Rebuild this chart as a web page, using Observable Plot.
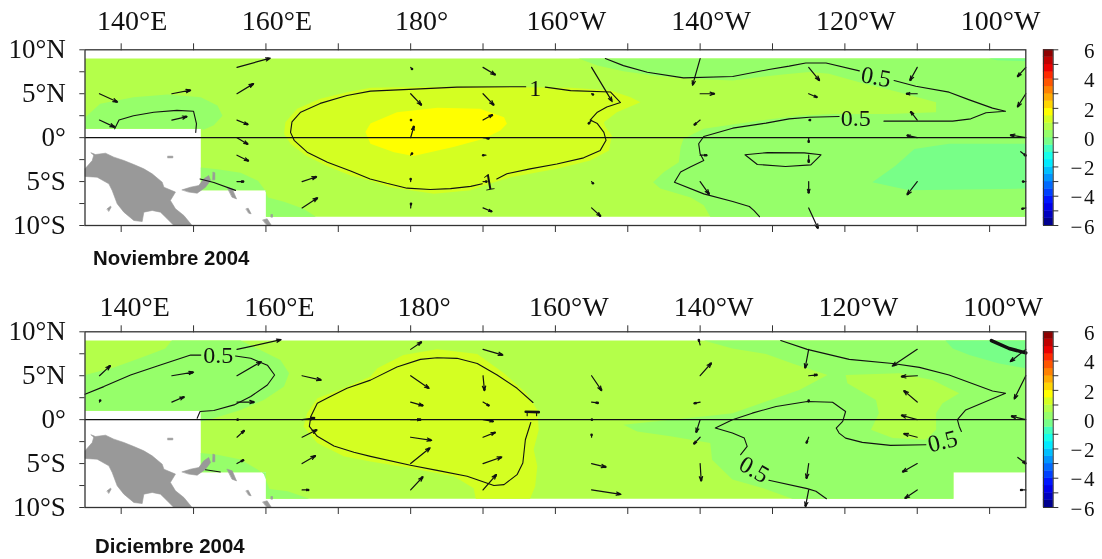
<!DOCTYPE html>
<html><head><meta charset="utf-8">
<script src="https://cdn.jsdelivr.net/npm/d3@7"></script>
<script src="https://cdn.jsdelivr.net/npm/@observablehq/plot@0.6"></script>
<style>
html,body{margin:0;padding:0;background:#fff}
#page{position:relative;width:1102px;height:559px;overflow:hidden;filter:blur(0.35px)}
#page svg{position:absolute;overflow:visible;background:none}
.cap{position:absolute;font:bold 20.4px "Liberation Sans",sans-serif;color:#111;white-space:nowrap}
</style></head><body><div id="page"></div>
<script>
// ---- axes
const lonTicks=[140,150,160,170,180,190,200,210,220,230,240,250,260];
const lonLabels={140:"140°E",160:"160°E",180:"180°",200:"160°W",220:"140°W",240:"120°W",260:"100°W"};
const latTicks=[-10,-7.5,-5,-2.5,0,2.5,5,7.5,10];
const latLabels={10:"10°N",5:"5°N",0:"0°","-5":"5°S","-10":"10°S"};
const titles=["Noviembre 2004","Diciembre 2004"];
// ---- colour legend
const levels=[-5.5,-5,-4.5,-4,-3.5,-3,-2.5,-2,-1.5,-1,-0.5,0,0.5,1,1.5,2,2.5,3,3.5,4,4.5,5,5.5];
const bandColors=["#00008f","#0000bf","#0000ea","#0015ff","#0040ff","#006aff","#0095ff","#00bfff","#00eaff","#15ffea","#40ffbf","#78ff88","#96ff6a","#b4ff4a","#d4ff22","#ffff00","#ffd500","#ffaa00","#ff8000","#ff5500","#ff2a00","#ea0000","#bf0000","#8f0000"];
const legendLabels=[-6,-4,-2,0,2,4,6];
const legendTicks=[-6,-5,-4,-3,-2,-1,0,1,2,3,4,5,6];
// ---- land (lon, lat)
const newGuinea=[[135.85,-1.73],[136.45,-1.92],[137.83,-1.77],[138.99,-2.22],[140.37,-2.6],[141.75,-3.06],[143.13,-3.55],[144.28,-4.12],[145.67,-5.07],[145.9,-5.64],[147.5,-6.2],[146.8,-7.15],[147.5,-8.1],[148.66,-8.86],[149.8,-10],[147.28,-10],[146.36,-9.24],[145.43,-8.48],[144.28,-8.29],[143.13,-8.48],[142.9,-9.55],[141.75,-9.43],[140.37,-8.48],[139.45,-7.53],[138.76,-6.02],[138.3,-5.26],[136.68,-4.5],[135,-4.42],[135,-3.55],[136,-2.6],[136.2,-2.03]];
const newBritain=[[148.43,-5.94],[149.58,-5.64],[150.73,-5.45],[151.42,-4.69],[152.1,-4.31],[152.35,-4.88],[151.65,-5.64],[150.5,-6.32],[149.35,-6.2]];
const newIreland=[[152.71,-3.93],[152.94,-4],[152.94,-4.8],[152.67,-4.8]];
const bougainville=[[154.65,-5.64],[155.34,-5.83],[155.94,-6.97],[155.34,-6.78]];
const islet1=[[146.45,-2.11],[147.14,-2.11],[147.14,-2.3],[146.45,-2.3]];
const islet2=[[138.06,-8.1],[138.53,-7.8],[138.62,-7.9],[138.3,-8.37]];
const islet3=[[157.27,-8.1],[157.55,-8.03],[157.96,-8.67],[157.64,-8.6]];
const islet4=[[159.58,-9.36],[160.17,-9.24],[160.77,-10],[160.17,-10]];
const islet5=[[160.73,-8.75],[160.91,-8.75],[160.91,-9.05],[160.73,-9.05]];
const lands=[newGuinea,newBritain,newIreland,bougainville,islet1,islet2,islet3,islet4,islet5];
// ---- sampled area of each month
const novBase=[[135,9],[265,9],[265,-9],[160,-9],[160,-6],[151,-6],[151,1],[135,1]];
const decBase=[[135,9],[265,9],[265,-6],[255,-6],[255,-9],[160,-9],[160,-6],[151,-6],[151,1],[135,1]];
// ---- November bands: [value, polygon]
const novWest=[[135,1],[135,2.3],[137.1,3.85],[141.7,4.6],[146.4,4.9],[151,4.6],[153.3,3.66],[154,2.5],[152.8,1.4],[151.4,0.9],[151,1]];
const novSouth=[[151,-3.4],[153.3,-3.6],[156.5,-4],[158.9,-4.9],[159.8,-5.9],[160.3,-6.8],[162.5,-7.3],[165.2,-8.1],[166.9,-9],[160,-9],[160,-6],[151,-6]];
const novEast=[[203.2,9],[265,9],[265,-9],[221.4,-9],[220.5,-7.7],[218.7,-6.8],[214.5,-5.8],[213.5,-5.07],[215,-3.9],[217.05,-2.8],[217.3,-1.1],[217.7,-0.13],[220.5,1],[224.5,1.5],[229.1,2.03],[233.7,2.5],[238.3,2.7],[246.1,2.7],[252.6,2.9],[252.6,4.04],[247.5,5.18],[242,6.3],[237.8,7.27],[235.1,7.46],[231.4,7.2],[227.2,6.8],[224.5,6.5],[218.7,6.7],[213.6,7.08],[209.4,7.57],[205.8,8.2]];
const novCoolSE=[[265,-0.7],[254.4,-0.7],[249.6,-1.3],[247,-3.2],[243.8,-5.07],[248.9,-6],[265,-5.8]];
const novCoolNE=[[259.9,9],[265,9],[265,8.7],[261,8.8]];
const novWarm=[[174.45,5.67],[171.2,5.18],[167.5,4.42],[164.3,3.28],[162.7,1.76],[162.5,0.44],[163.4,-0.7],[165.5,-2.03],[168.5,-3.25],[171.7,-4.3],[174.4,-4.88],[177.2,-5.64],[183.2,-6.4],[188.3,-6],[190.1,-5.45],[193.8,-4.5],[200.2,-3.55],[204.8,-2.6],[207.4,-1.45],[207.8,0.25],[206.9,1.2],[206.7,1.76],[208.5,2.9],[211.75,4.04],[210.4,4.6],[207.6,5.37],[202.1,5.67],[188.3,5.83],[179,5.75]];
const novHot=[[173.75,0.63],[174.44,1.6],[178.1,2.9],[183.7,3.4],[189.6,3.28],[192.9,2.33],[193.3,1.58],[192.4,0.82],[190.1,-0.13],[185.9,-1.07],[180.4,-2.1],[177.7,-1.65],[174.44,-0.7]];
const novBands=[[0.75,novBase],[0.25,novWest],[0.25,novSouth],[0.25,novEast],[-0.25,novCoolSE],[-0.25,novCoolNE],[1.25,novWarm],[1.75,novHot]];
// ---- December bands
const decWest=[[135,1],[135,5.08],[139,5.95],[143.1,7.16],[146.1,8.1],[147,9],[156.5,9],[158.8,8.1],[162,6.8],[163.2,5.27],[162.5,3.76],[159.7,2.25],[156.5,1.1],[152.8,0.17],[151,-0.2],[151,1]];
const decSouth=[[151,-3.8],[153.3,-4],[156.5,-4.55],[158.9,-5.7],[159.7,-6.2],[160.5,-7.9],[163,-8.15],[166,-9],[160,-9],[160,-6],[151,-6]];
const decEast=[[220.5,9],[224.46,8.1],[229.1,7.47],[232.75,6.4],[237.6,5.08],[233.7,3.38],[229.1,2.06],[224.46,0.74],[220.5,0.36],[215.9,0],[209.4,-0.58],[211.3,-1.34],[215.9,-1.9],[221.4,-2.67],[221.65,-4.56],[224.46,-6.8],[228.6,-7.77],[232.75,-9],[255,-9],[255,-6],[265,-6],[265,9]];
const decTongue=[[240.1,5.08],[247.5,5.27],[252.1,4.5],[255.8,3],[253.5,1.87],[252.6,0.74],[252.6,-1.15],[251.2,-2.29],[246.6,-2.1],[243.6,-1.15],[244.7,0.74],[244.3,2.25],[240.35,4.14]];
const decCool=[[253.9,9],[254.9,8.1],[257.2,7.35],[261.3,6.4],[265,5.84],[265,9]];
const decWarm=[[174.45,4.9],[170.75,3.57],[167.1,2.44],[165.7,0.74],[165.2,-0.77],[167.1,-2.66],[170.75,-4.18],[174.45,-4.75],[179.97,-5.5],[186,-6.45],[188.7,-7.8],[189,-9],[196.5,-9],[197.2,-7.6],[197.5,-5.3],[197,-3.4],[197.7,-1.15],[197.5,1.1],[196,3],[192.9,5.27],[189.2,7.47],[183.65,8],[179,7.35],[175.4,5.84]];
const decBands=[[0.75,decBase],[0.25,decWest],[0.25,decSouth],[0.25,decEast],[0.75,decTongue],[-0.25,decCool],[1.25,decWarm]];
// ---- contours (lon, lat); [width, points]
const novContours=[
 [1,[[139.1,1],[139.7,2],[141.7,2.5],[144.5,2.9],[147.7,3.1],[150,3],[150.4,1.6],[150.3,0.6]]],
 [1,[[150.9,-4.7],[152.8,-5.1],[155.8,-6]]],
 [1,[[195.9,5.8],[186.4,5.75],[181.3,5.55],[174.45,5.3],[171.2,4.8],[167.5,3.9],[164.8,2.9],[163.6,1.8],[163.4,0.6],[163.9,-0.3],[165.7,-1.65],[168.5,-2.8],[171.7,-3.8],[174.4,-4.7],[176.7,-5.2],[179.5,-5.75],[182.7,-5.9],[185.5,-5.8],[188.3,-5.55],[189.9,-5.25]]],
 [1,[[191.9,-4.7],[193.3,-4.1],[196.5,-3.55],[200.2,-3],[203.9,-2.3],[206.2,-1.45],[207,-0.3],[206.7,0.6],[205.8,1.6],[204.8,2],[205.8,2.9],[207.1,3.5],[209,4],[207.6,5.2],[202.1,5.35],[198.6,5.75]]],
 [1,[[206.9,9],[209.4,8.2],[212.7,7.45],[217.7,6.8],[224.5,6.96],[229.5,7.76],[232.3,8.14],[234.6,8.5],[237.4,8.5],[242,7.6]]],
 [1,[[246.8,6.5],[249.8,5.86],[254.4,5.18],[257.2,4.3],[260.4,3.36],[262.2,3],[259.5,2.83],[257.4,2.14],[254.9,1.88],[245.4,1.88]]],
 [1,[[239.2,2.4],[235.1,2.33],[232.3,2.14],[229.1,1.65],[224.5,1.08],[220.5,0.13],[219.8,-0.7],[220,-1.84],[220.5,-2.6],[218.7,-3.3],[217.3,-3.9],[216.45,-5.07],[220.5,-6.4],[224.5,-7.27],[226.8,-7.84],[227.45,-8.3],[228.2,-9]]],
 [1,[[226.2,-1.95],[229.3,-1.7],[234.4,-1.73],[236.7,-1.95],[235.3,-3.1],[231.8,-3.28],[227.9,-3.05],[226.2,-1.95]]]
];
const decContours=[
 [1,[[135,2.9],[137.6,3.76],[141.3,5.08],[145,6.1],[149.6,7.35],[151,7.35]]],
 [1,[[155.8,7.24],[157.9,6.98],[160.2,6.2],[161.2,5.08],[160.2,3.95],[157.9,2.63],[155.6,1.68],[152.8,1.04],[150.9,0.93],[150.5,0.17]]],
 [1,[[151.65,-5.7],[153.7,-5.95]]],
 [1,[[196.6,-0.32],[195.85,-2.29],[195.5,-4.93],[194.7,-6.26],[192.9,-7.4],[191.5,-7.5],[187.8,-6.45],[183.65,-5.77],[179.97,-5.2],[174.44,-4.18],[172.15,-3.72],[169.4,-3],[167.1,-1.9],[166,-0.77],[166.2,0.36],[167.1,1.87],[168.7,2.55],[171.2,3.57],[174.45,4.5],[178.1,6],[181.35,6.86],[183.65,7.05],[186.4,6.98],[189.2,6.4],[191.95,5.08],[194.7,3.57],[196.9,1.95]]],
 [2.4,[[195.9,0.9],[197.7,0.85]]],
 [1,[[196.1,0.9],[196.1,0.45]]],
 [1,[[197.4,0.9],[197.4,0.45]]],
 [1,[[231.14,9],[234.8,8],[240.6,6.86],[246.6,6.4],[250.3,5.95],[254.4,5.08],[260.4,3.27],[262.2,3],[256.7,1.11],[255.55,0],[255.8,-0.77],[256.1,-1.34]]],
 [1,[[251.2,-2.85],[246.3,-2.93],[242.4,-2.59],[240.1,-2.1],[239.2,-1.53],[238.8,-0.96],[239.7,-0.2],[240.1,0.93],[238.3,1.98],[234.8,2.06],[230.5,1.5],[227.2,0.74],[224.46,0],[222.1,-0.96],[224.46,-1.53],[226.1,-2.1],[226.5,-3.04],[225.6,-3.99]]],
 [1,[[229.5,-6.9],[234.8,-7.85],[236,-8.15],[237.45,-9]]],
 [3.2,[[260.25,9],[262.7,8.1],[265,7.6]]]
];
// ---- contour labels: lon, lat, text, rotation
const novLabels=[[197.2,5.67,"1",0],[190.8,-5.07,"1",-10],[244.3,6.9,"0.5",10],[241.5,2.2,"0.5",0]];
const decLabels=[[153.4,7.35,"0.5",0],[253.5,-2.48,"0.5",-14],[227.45,-5.69,"0.5",30]];
// ---- wind vectors: lon, lat, dlon, dlat
const novVectors=[
[137,5,2.5,-.95],[137,2,2.1,-.8],[147,5,2.6,.4],[147,2,2.1,.4],
[156,8,4.6,1.05],[156,5,2.3,1.15],[156,2,1.5,-.5],[156,0,1.5,-.75],[156,-2,1.6,-.65],[156,-5,.9,0],
[165,-5,2,.55],[165,-8,2.15,1.15],
[180,8,.2,-.2],[180,5,1.5,-1.3],[180,2,.05,0],[180,0,.45,1.3],[180,-2,.2,.2],[180,-5,0,.3],[180,-8,.05,.5],
[190,8,1.7,-.85],[190,5,1.5,-1.3],[190,2,1.3,.6],[190,0,.8,-.1],[190.4,-2,-.4,0],[190,-5,.5,0],[190,-8,1.2,-.4],
[205,8,2.85,-3.9],[205,5,.2,-.1],[205,2,-.4,-.4],[205,-5,.2,-.2],[205,-8,1.25,-.95],
[220,9,-1.05,-3.05],[220,5,2,0],[220,2,-.8,-.55],[220,-2,.9,0],[220,-5,1.25,-1.45],
[235,8,1.5,-1.5],[235,5,1.15,-.4],[235,2,.2,0],[235,0,0,-.5],[235,-2,0,-.8],[235,-5,0,-1.3],[235,-8,1.3,-2.35],
[250,8,-1,-1.5],[250,5,-1.5,0],[250,2,-.9,.95],[250,0,-1.4,.25],[250,-5,-1.4,-1.5],
[265,8,-1.15,-1.05],[265,5,-1.15,-1.5],[265,0,-2.15,.3],[264.3,-1.6,.7,-.45],[265,-5,-.4,0],[265,-8,-.5,-.1]
];
const decVectors=[
[137,5,1.5,1.15],[137,2,.1,.2],[147,5,3,.4],[147,2,1.7,.6],
[156,8,6.1,1.1],[156,5,3.35,1.6],[156,2,2.4,0],[156,0,.1,0],[156,-2,1,.75],[156,-5,.9,.4],
[165,5,2.65,-.5],[165,0,1.75,.2],[165,-2,2.05,.85],[165,-5,1.85,.9],[165,-8,.9,0],
[180,8,1.5,.85],[180,5,2.55,-1.45],[180,2,1.7,-.4],[180,0,1.4,0],[180,-2,2.9,-.35],[180,-5,2.7,1.8],[180,-8,1.7,1.5],
[190,8,2.75,-.65],[190,5,.2,-1.7],[190,2,.8,-.4],[190,0,1.4,-.2],[190,-2,1.7,.55],[190,-5,2.6,.75],[190,-8,1.85,1.75],
[205,5,1.4,-1.7],[205,2,.9,-.1],[205,0,.05,0],[205,-2,0,.3],[205,-5,2,-.4],[205,-8,4.05,-.5],
[220,8.5,-.2,.6],[220,5,1.55,1.45],[220,2,-.8,-.15],[220,0,-.55,-1.45],[220,-2,-.85,-.75],[220,-5,.15,-2],
[235,8,-.5,-2.15],[235,5,1.15,.1],[235,2,0,.2],[235,-2,-.3,-.65],[235,-5,-.3,-1.7],[235,-8,-.45,-1.9],
[250,8,-3.45,-1.9],[250,5,-2.2,-.1],[250,2,-1.85,1.3],[250,0,-2.2,.5],[250,-2,-1.85,.4],[250,-5,-2.05,-.95],[250,-8,-1.7,-.95],
[265,8,-2.15,-1.4],[265,5,-1.6,-2.65],[265,0,-2,.4],[263.9,-4.3,1.1,-.7],[265,-8,-.7,0]
];

const page=document.getElementById("page");
const serif='"Liberation Serif",serif';
function panel(top,bands,contours,labels,vectors,dx,pad){
  const H=270;
  const bandRows=bands.flatMap(([v,p],i)=>p.map(([x,y])=>({x,y,v,i})));
  const contourRows=w=>contours.flatMap(([cw,p],i)=>cw===w?p.map(([x,y])=>({x,y,i})):[]);
  const landRows=lands.flatMap((p,i)=>p.map(([x,y])=>({x,y,i})));
  const widths=[...new Set(contours.map(c=>c[0]))];
  const svg=Plot.plot({
    width:1102,height:H,
    marginLeft:84.5,marginRight:76.7,marginTop:49.3,marginBottom:45,
    x:{domain:[135,265],label:null},
    y:{domain:[-10,10],label:null},
    color:{type:"threshold",domain:levels,range:bandColors},
    style:{fontFamily:serif,color:"#111",background:"none"},
    marks:[
      ...d3.groups(bandRows,d=>d.i).map(([i,rows])=>Plot.line(rows,{x:"x",y:"y",z:"i",fill:"v",stroke:"none",curve:"linear-closed"})),
      Plot.line(landRows,{x:"x",y:"y",z:"i",fill:"#999",stroke:"#999",strokeWidth:0.6,curve:"linear-closed"}),
      ...widths.map(w=>Plot.line(contourRows(w),{x:"x",y:"y",z:"i",stroke:"#111",strokeWidth:w*1.1})),
      Plot.text(labels,{x:d=>d[0],y:d=>d[1],text:d=>d[2],rotate:d=>d[3],fontSize:24,fontFamily:serif,fill:"#111"}),
      Plot.arrow(vectors,{x1:d=>d[0],y1:d=>d[1],x2:d=>d[0]+d[2],y2:d=>d[1]+d[3],stroke:"#111",strokeWidth:1.2,headLength:6,headAngle:40}),
      Plot.dot(vectors,{x:d=>d[0]+d[2]*0.93,y:d=>d[1]+d[3]*0.93,r:1.3,fill:"#111",stroke:"none"}),
      Plot.ruleY([0],{stroke:"#111",strokeWidth:1.4}),
      Plot.frame({stroke:"#333",strokeWidth:1.3}),
      Plot.axisX(lonTicks,{anchor:"top",tickSize:7,stroke:"#333",text:null,label:null}),
      Plot.text(lonTicks.filter(d=>lonLabels[d]),{x:d=>d,frameAnchor:"top",dy:-pad,dx,text:d=>lonLabels[d],fontSize:28,fontFamily:serif,fill:"#111",lineAnchor:"bottom"}),
      Plot.axisX(lonTicks,{anchor:"bottom",tickSize:7,stroke:"#333",text:null,label:null}),
      Plot.axisY(latTicks,{anchor:"left",tickSize:5.2,stroke:"#333",tickPadding:14,fontSize:27,label:null,tickFormat:d=>latLabels[d]??""})
    ]
  });
  svg.style.left="0px";svg.style.top=top+"px";
  page.appendChild(svg);
}
function legend(top){
  const rows=bandColors.map((c,i)=>({lo:-6+i*0.5,hi:-5.5+i*0.5,mid:-5.75+i*0.5}));
  const svg=Plot.plot({
    width:64,height:270,
    marginLeft:5,marginRight:49.3,marginTop:49.3,marginBottom:45,
    x:{domain:[0,1],axis:null},
    y:{domain:[-6,6],axis:null},
    color:{type:"threshold",domain:levels,range:bandColors},
    style:{fontFamily:serif,color:"#111",background:"none"},
    marks:[
      Plot.rect(rows,{x1:0,x2:1,y1:"lo",y2:"hi",fill:"mid",inset:-0.2}),
      Plot.frame({stroke:"#333",strokeWidth:1}),
      Plot.ruleY(legendTicks,{x1:1,x2:1.58,stroke:"#333",strokeWidth:1})
    ]
  });
  svg.style.left="1038px";svg.style.top=top+"px";
  page.appendChild(svg);
  const tx=Plot.plot({
    width:64,height:270,marginLeft:0,marginRight:0,marginTop:49.3,marginBottom:45,
    x:{domain:[0,1],axis:null},y:{domain:[-6,6],axis:null},
    style:{fontFamily:serif,background:"none"},
    marks:[Plot.text(legendLabels,{x:1,y:d=>d,dy:1.5,text:d=>d<0?"\u2212\u200a"+(-d):""+d,textAnchor:"end",fontSize:21,fontFamily:serif,fill:"#111"})]
  });
  tx.style.left="1030px";tx.style.top=top+"px";
  page.appendChild(tx);
}
panel(0,novBands,novContours,novLabels,novVectors,11,20);
panel(282.4,decBands,decContours,decLabels,decVectors,13.5,15.5);
legend(0);legend(282.4);
[[titles[0],93,247],[titles[1],95,535]].forEach(([t,x,y])=>{
  const d=document.createElement("div");d.className="cap";d.textContent=t;d.style.left=x+"px";d.style.top=y+"px";page.appendChild(d);
});
</script></body></html>
